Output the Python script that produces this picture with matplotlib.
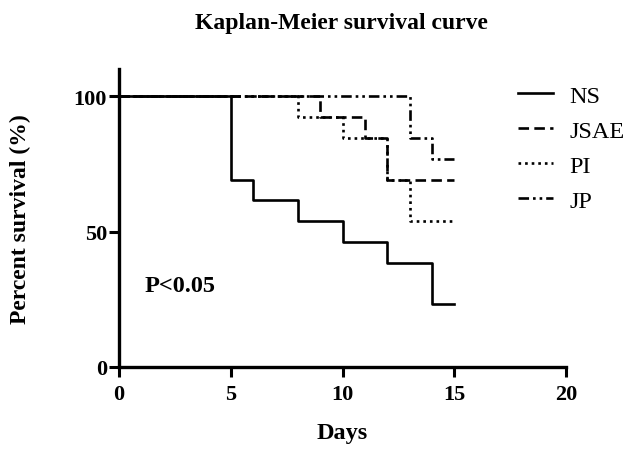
import matplotlib
matplotlib.use("Agg")
import matplotlib.pyplot as plt

plt.rcParams['font.family'] = ['Liberation Serif', 'DejaVu Serif']

groups = ["NS", "JSAE", "PI", "JP"]
ns_t = [0, 5, 6, 8, 10, 12, 14, 15]
ns_s = [100, 69.2, 61.5, 53.8, 46.2, 38.5, 23.1, 23.1]
jsae_t = [0, 9, 11, 12, 15]
jsae_s = [100, 92.3, 84.6, 69.2, 69.2]
pi_t = [0, 8, 10, 12, 13, 15]
pi_s = [100, 92.3, 84.6, 69.2, 53.8, 53.8]
jp_t = [0, 13, 14, 15]
jp_s = [100, 84.6, 76.9, 76.9]

xticks = [0, 5, 10, 15, 20]
yticks = [0, 50, 100]

fig = plt.figure(figsize=(6.32, 4.52), dpi=100)
ax = fig.add_axes([0.188, 0.186, 0.708, 0.659])

lw = 1.9
styles = [
    dict(linestyle='-'),
    dict(linestyle=(0, (4, 2))),
    dict(linestyle=(0, (1, 1.5))),
    dict(linestyle=(0, (4, 1.5, 1, 1.5, 1, 1.5))),
]
data = [(ns_t, ns_s), (jsae_t, jsae_s), (pi_t, pi_s), (jp_t, jp_s)]
order = [3, 2, 1, 0]
handles = {}
for i in order:
    t, s = data[i]
    h, = ax.step(t, s, where='post', color='black', lw=lw, **styles[i], label=groups[i])
    handles[i] = h

ax.set_xlim(0, 20)
ax.set_ylim(0, 110)
ax.set_xticks(xticks)
ax.set_yticks(yticks)
for sp in ['top', 'right']:
    ax.spines[sp].set_visible(False)
for sp in ['left', 'bottom']:
    ax.spines[sp].set_linewidth(2.4)
ax.tick_params(direction='out', length=7, width=2.2, labelsize=16)
ax.tick_params(axis='x', pad=5)
ax.tick_params(axis='y', pad=1.5)
for lab in ax.get_xticklabels() + ax.get_yticklabels():
    lab.set_fontweight('bold')

ax.set_xlabel('Days', fontsize=17.5, fontweight='bold', labelpad=13)
ax.set_ylabel('Percent survival (%)', fontsize=17, fontweight='bold', labelpad=31)
fig.text(0.54, 0.948, 'Kaplan-Meier survival curve', ha='center', va='center',
         fontsize=17, fontweight='bold')
ax.text(1.15, 30, 'P<0.05', fontsize=17.5, fontweight='bold', va='center')

leg = fig.legend([handles[i] for i in range(4)], groups, loc='upper left',
                 bbox_to_anchor=(0.8196, 0.81), frameon=False, fontsize=17.5,
                 handlelength=1.45, labelspacing=0.53, handletextpad=0.65,
                 borderpad=0, borderaxespad=0)

fig.savefig('out.png', dpi=100)
